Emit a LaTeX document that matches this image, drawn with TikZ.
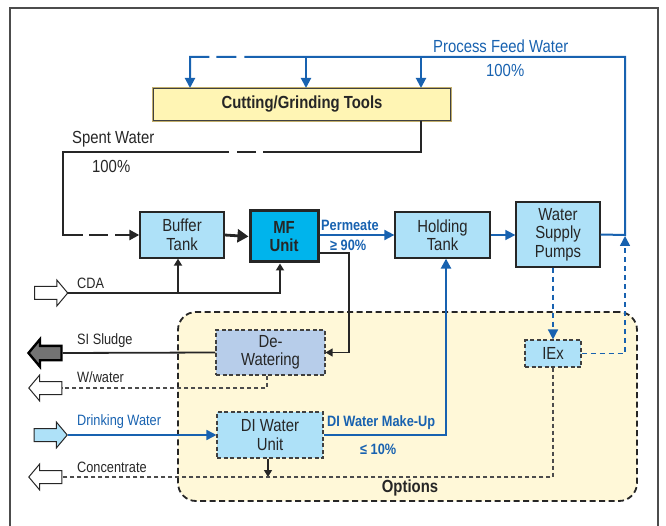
\documentclass[tikz,border=0pt]{standalone}
\usepackage{fontspec}
\setmainfont{Liberation Sans}[FakeStretch=0.85]
\usepackage{tikz}
\usetikzlibrary{arrows.meta,shapes.arrows}
\definecolor{flowblue}{HTML}{1862B0}
\definecolor{tankblue}{HTML}{AEE1F8}
\definecolor{mfblue}{HTML}{00B4EC}
\definecolor{dewblue}{HTML}{B7CDEA}
\definecolor{toolyellow}{HTML}{FFF5B4}
\definecolor{tooledge}{HTML}{C2AE6A}
\definecolor{optyellow}{HTML}{FFF8D8}
\definecolor{inkgray}{HTML}{262626}
\newcommand{\fbig}{\fontsize{17.5}{18.5}\selectfont}
\newcommand{\fsmall}{\fontsize{15}{16}\selectfont}

\begin{document}
\begin{tikzpicture}[
    x=1pt, y=-1pt,
    line join=miter,
    lbl/.style={anchor=west, inner sep=0, text=inkgray, font=\fsmall},
    bluelbl/.style={anchor=west, inner sep=0, text=flowblue, font=\fsmall\bfseries},
    unit/.style={draw=inkgray, line width=1.3pt, fill=tankblue, align=center, font=\fbig, inner sep=0, text=inkgray},
    optunit/.style={unit, draw=black!75, line width=1.1pt, dash pattern=on 4pt off 2.5pt},
    flowarrow/.style={shape=single arrow, draw=inkgray, line width=1pt, fill=white, inner xsep=0, inner ysep=6pt,
        minimum height=33pt, single arrow head extend=6.5pt, single arrow tip angle=100},
    outarrow/.style={flowarrow, shape border rotate=180},
    blackline/.style={draw=inkgray, line width=2.2pt},
    thinline/.style={draw=inkgray, line width=1.2pt},
    blueline/.style={draw=flowblue, line width=2pt},
    dashline/.style={draw=black!70, line width=1.1pt, dash pattern=on 4pt off 3pt},
    bluedash/.style={draw=flowblue, line width=1.5pt, dash pattern=on 5pt off 4pt},
    tipbig/.style={-{Triangle[length=11pt,width=13pt]}},
    tipmid/.style={-{Triangle[length=10pt,width=10pt]}},
    tipsm/.style={-{Triangle[length=7pt,width=8pt]}}]
\useasboundingbox (0,0) rectangle (666,526);
\draw[draw=black!70, line width=1.5pt] (10,526) -- (10,8) -- (658,8) -- (658,526);

\node[draw=black!85, line width=1.8pt, dash pattern=on 6pt off 3.5pt, rounded corners=18pt, fill=optyellow,
    minimum width=459pt, minimum height=189pt] (options) at (407.5,406.5) {};
\node[font=\fbig\bfseries, text=inkgray, inner sep=0] (optlabel) at (410,488) {Options};

\node[draw=black!75, line width=1pt, fill=toolyellow, preaction={draw=tooledge, line width=3.5pt},
    minimum width=297pt, minimum height=32pt, inner sep=0, font=\fbig\bfseries, text=inkgray] (tools) at (302,104.5) {Cutting/Grinding Tools};
\node[unit, minimum width=84pt, minimum height=46pt] (buffer) at (182,235) {Buffer\\Tank};
\node[unit, fill=mfblue, line width=3pt, minimum width=68pt, minimum height=51pt, font=\fbig\bfseries] (mfunit) at (284,236.5) {MF\\Unit};
\node[unit, minimum width=95pt, minimum height=46pt] (holding) at (442.5,235) {Holding\\Tank};
\node[unit, minimum width=84pt, minimum height=65pt] (pumps) at (558,234.5) {Water\\Supply\\Pumps};
\node[optunit, minimum width=109pt, minimum height=45pt, fill=dewblue] (dewater) at (270.5,352.5) {De-\\Watering};
\node[optunit, minimum width=106pt, minimum height=46pt] (diunit) at (270,435) {DI Water\\Unit};
\node[optunit, minimum width=56pt, minimum height=27pt] (iex) at (553,353.5) {IEx};

\node[flowarrow] (cdain) at (48.5,293) {};
\node[outarrow, fill=black!55, draw=black, line width=2.4pt] (sludge) at (48,353) {};
\node[outarrow] (wwater) at (48,388) {};
\node[flowarrow, fill=tankblue] (drinkin) at (48,435) {};
\node[outarrow] (concout) at (48,477) {};

\coordinate (spentr) at (421,152);
\coordinate (spentl) at (63,152);
\coordinate (feedj) at (625,235);
\coordinate (feedtop) at (625,57);
\coordinate (feedl) at (190,57);
\coordinate (cdaj) at (178,293);
\coordinate (mfdrop) at (349,300);
\coordinate (concj) at (268,477);

\draw[blackline, line width=2.6pt, tipmid, dash pattern=on 189pt off 7pt on 19pt off 8pt on 269pt off 6pt on 19pt off 7pt on 60pt]
    (spentr |- tools.south) -- (spentr) -- (spentl) |- (buffer.west);
\draw[blueline, tipmid, dash pattern=on 583pt off 8pt on 20pt off 7pt on 80pt]
    (pumps.east) -- (feedj) -- (feedtop) -- (feedl) -- (feedl |- tools.north);
\foreach \x in {306,421}
    \draw[blueline, tipmid] (\x,57) -- (\x,57 |- tools.north);

\draw[blackline, line width=2.8pt, tipbig] (buffer.east) -- (mfunit.west);
\draw[blueline, tipmid] (mfunit.east |- holding.west) -- (holding.west);
\draw[blueline, line width=1.6pt, tipmid] (holding.east) -- (pumps.west |- holding.east);
\draw[thinline, tipsm] ([yshift=-16.5pt]mfunit.east) -| (mfdrop) |- (dewater.east);

\draw[blackline, line width=2pt, tipsm] (cdain.tip) -| ([xshift=-4pt]mfunit.south);
\draw[blackline, line width=2pt, tipsm] (cdaj) -- (cdaj |- buffer.south);

\draw[thinline, line width=1.8pt] (dewater.west) -- (sludge.tail);
\draw[dashline] ([xshift=-3.5pt]dewater.south) |- (wwater.tail);
\draw[blueline, line width=1.6pt, tipmid] (drinkin.tip) -- (diunit.west);
\draw[blueline, line width=2.4pt, tipmid] (diunit.east) -| ([xshift=3.5pt]holding.south);
\draw[thinline, tipsm] (diunit.south -| concj) -- (concj);
\draw[dashline] (iex.south) |- (concout.tail);
\draw[bluedash, tipmid] (iex.north |- pumps.south) -- (iex.north);
\draw[bluedash, tipmid] (iex.east) -| ([yshift=-1pt]feedj);

\node[lbl, font=\fbig] (spentlbl) at (72,139) {Spent Water};
\node[lbl, font=\fbig] (spentpct) at (92,166) {100\%};
\node[lbl, font=\fbig, text=flowblue] (feedlbl) at (433,46) {Process Feed Water};
\node[lbl, font=\fbig, text=flowblue] (feedpct) at (486,70) {100\%};
\node[bluelbl] (permlbl) at (321,225) {Permeate};
\node[bluelbl] (permpct) at (330,245) {≥ 90\%};
\node[lbl] (cdalbl) at (77,283) {CDA};
\node[lbl] (sludgelbl) at (77,341) {SI Sludge};
\node[lbl] (wwaterlbl) at (77,377) {W/water};
\node[lbl, text=flowblue] (drinklbl) at (77,422) {Drinking Water};
\node[lbl] (conclbl) at (77,467) {Concentrate};
\node[bluelbl] (makeuplbl) at (327,423) {DI Water Make-Up};
\node[bluelbl] (makeuppct) at (360,449) {≤ 10\%};
\end{tikzpicture}
\end{document}
